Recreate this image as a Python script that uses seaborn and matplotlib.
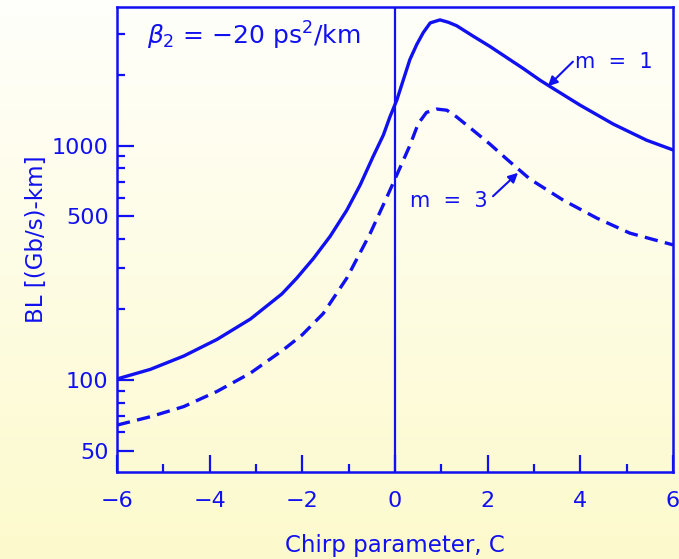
import numpy as np
import pandas as pd
import matplotlib
matplotlib.use("Agg")
import matplotlib.pyplot as plt
import seaborn as sns

# ---- data ----
chirp_m1 = [-6, -5.28, -4.56, -3.84, -3.12, -2.44, -2.12, -1.76, -1.40, -1.04, -0.75, -0.47,
            -0.25, -0.11, 0.04, 0.18, 0.32, 0.47, 0.61, 0.76, 0.97, 1.15, 1.33, 1.69, 2.05,
            2.77, 3.13, 3.35, 3.99, 4.71, 5.43, 6.0]
bl_m1 = [101, 111, 126.5, 149, 182, 233, 272, 330, 410, 530, 680, 900,
         1110, 1325, 1565, 1908, 2325, 2700, 3033, 3336, 3436, 3357, 3245, 2926, 2647,
         2130, 1900, 1784, 1489, 1235, 1054, 958]

chirp_m3 = [-6, -5.28, -4.56, -3.84, -3.12, -2.40, -2.0, -1.55, -1.04, -0.54, -0.18, 0.04,
            0.32, 0.50, 0.68, 0.90, 1.12, 1.33, 1.69, 2.05, 2.41, 2.91, 3.63, 4.35, 5.07, 6.0]
bl_m3 = [64.2, 69.7, 77, 89.4, 107, 135, 156, 192, 272, 420, 600, 750,
         1000, 1239, 1385, 1431, 1415, 1325, 1160, 1014, 876, 720, 585, 491, 423, 377]

y_major = [50, 100, 500, 1000]
y_major_labels = ["50", "100", "500", "1000"]
y_minor = [60, 70, 80, 90, 200, 300, 400, 600, 700, 800, 900, 2000, 3000]
x_major = [-6, -4, -2, 0, 2, 4, 6]
x_major_labels = ["\u22126", "\u22124", "\u22122", "0", "2", "4", "6"]
x_minor = [-5, -3, -1, 1, 3, 5]

BLUE = "#1010F0"

sns.set_style("ticks")
plt.rcParams["font.family"] = ["DejaVu Sans"]
plt.rcParams["mathtext.fontset"] = "dejavusans"

df1 = pd.DataFrame({"C": chirp_m1, "BL": bl_m1})
df3 = pd.DataFrame({"C": chirp_m3, "BL": bl_m3})

fig = plt.figure(figsize=(6.79, 5.59), dpi=100)
# background gradient
bg = fig.add_axes([0, 0, 1, 1], zorder=-10)
grad = np.linspace(0, 1, 256).reshape(-1, 1)
top = np.array([1.0, 1.0, 0.985])
bot = np.array([0.99, 0.98, 0.80])
img = top[None, None, :] * (1 - grad[:, :, None]) + bot[None, None, :] * grad[:, :, None]
bg.imshow(img, aspect="auto", extent=[0, 1, 0, 1])
bg.axis("off")

ax = fig.add_axes([117/679, 1 - 472/559, (673 - 117)/679, (472 - 7)/559])
ax.patch.set_alpha(0)

sns.lineplot(data=df1, x="C", y="BL", ax=ax, color=BLUE, lw=2.4)
sns.lineplot(data=df3, x="C", y="BL", ax=ax, color=BLUE, lw=2.4)
ax.lines[-1].set_dashes([4, 2.2])
for ln in ax.lines:
    ln.set_solid_joinstyle("round")
    ln.set_dash_capstyle("butt")

ax.set_yscale("log")
ax.set_xlim(-6, 6)
ax.set_ylim(40.5, 3900)
ax.axvline(0, color=BLUE, lw=1.6)

ax.set_yticks(y_major)
ax.set_yticklabels(y_major_labels)
ax.set_yticks(y_minor, minor=True)
ax.yaxis.set_minor_formatter(matplotlib.ticker.NullFormatter())
ax.set_xticks(x_major)
ax.set_xticklabels(x_major_labels)
ax.set_xticks(x_minor, minor=True)

ax.tick_params(axis="both", which="major", direction="in", length=12, width=1.6,
               color=BLUE, labelcolor=BLUE, labelsize=16)
ax.tick_params(axis="both", which="minor", direction="in", length=6, width=1.6, color=BLUE)
ax.tick_params(axis="x", which="major", pad=14)
ax.tick_params(axis="y", which="major", pad=6)
for s in ax.spines.values():
    s.set_color(BLUE)
    s.set_linewidth(1.8)

ax.set_xlabel("Chirp parameter, C", color=BLUE, fontsize=16.5, labelpad=16)
ax.set_ylabel("BL [(Gb/s)-km]", color=BLUE, fontsize=16.5, labelpad=3)

ax.text(-5.35, 2950, r"$\beta_2$ = $-$20 ps$^2$/km", color=BLUE, fontsize=18, va="center")

ax.text(3.89, 2280, "m  =  1", color=BLUE, fontsize=15, va="center", ha="left")
ax.annotate("", xy=(3.30, 1790), xytext=(3.84, 2280),
            arrowprops=dict(arrowstyle="-|>", color=BLUE, lw=1.5, mutation_scale=14,
                            shrinkA=0, shrinkB=0))
ax.text(1.99, 580, "m  =  3", color=BLUE, fontsize=15, va="center", ha="right")
ax.annotate("", xy=(2.655, 765), xytext=(2.115, 608),
            arrowprops=dict(arrowstyle="-|>", color=BLUE, lw=1.5, mutation_scale=14,
                            shrinkA=0, shrinkB=0))

fig.savefig("out.png", dpi=100)
